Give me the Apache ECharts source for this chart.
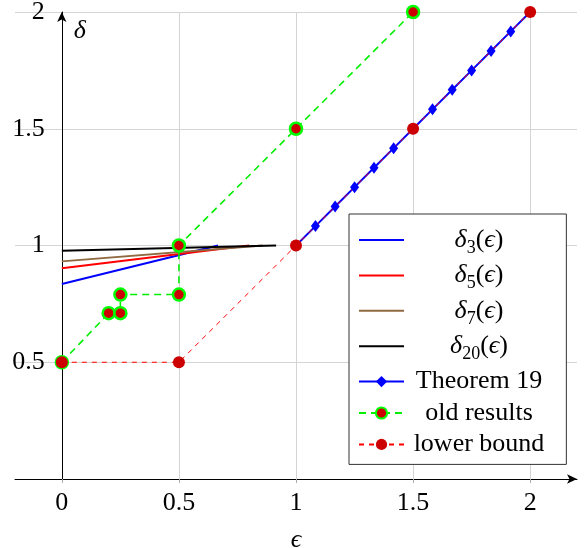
<!DOCTYPE html>
<html>
<head>
<meta charset="utf-8">
<script src="https://cdn.jsdelivr.net/npm/echarts@6/dist/echarts.min.js"></script>
<style>html,body{margin:0;padding:0;background:#fff}#c{width:588px;height:548px}</style>
</head>
<body>
<div id="c"></div>
<script>
// ---- data ----
const xTicks = [0, 0.5, 1, 1.5, 2];
const delta3X = [0, 0.667];
const delta3Y = [0.835, 1];
const delta5X = [0, 0.8];
const delta5Y = [0.903, 1];
const delta7X = [0, 0.857];
const delta7Y = [0.932, 1];
const delta20X = [0, 0.915];
const delta20Y = [0.977, 1];
const thm19X = [1, 1.083, 1.167, 1.25, 1.333, 1.417, 1.5, 1.583, 1.667, 1.75, 1.833, 1.917, 2];
const thm19Y = [1, 1.083, 1.167, 1.25, 1.333, 1.417, 1.5, 1.583, 1.667, 1.75, 1.833, 1.917, 2];
const oldX = [0, 0.2, 0.25, 0.25, 0.5, 0.5, 1, 1.5];
const oldY = [0.5, 0.71, 0.71, 0.79, 0.79, 1, 1.5, 2];
const lowX = [0, 0.5, 1, 1.5, 2];
const lowY = [0.5, 0.5, 1, 1.5, 2];
const seriesNames = ['δ3(ϵ)', 'δ5(ϵ)', 'δ7(ϵ)', 'δ20(ϵ)', 'Theorem 19', 'old results', 'lower bound'];

const zip = (xs, ys) => xs.map((x, i) => [x, ys[i]]);
const FONT = '"Liberation Serif", "DejaVu Serif", serif';
const FS = 26;
const LINE_ICON = 'path://M0,0L45,0L45,2L0,2Z';

const richBase = { fontFamily: FONT, fontSize: FS, color: '#000', align: 'center', lineHeight: 26 };
const rich = {
  n: Object.assign({}, richBase),
  i: Object.assign({}, richBase, { fontStyle: 'italic' }),
  s: Object.assign({}, richBase, { fontSize: 18, padding: [8, 0, -8, 0] })
};
function legendFmt(name) {
  const m = name.match(/^δ(\d+)\(ϵ\)$/);
  if (m) return '{i|δ}{s|' + m[1] + '}{n|(}{i|ϵ}{n|)}';
  return '{n|' + name + '}';
}

function lineSeries(name, data, color, extra) {
  return Object.assign({
    name: name, type: 'line', data: data, symbol: 'none',
    lineStyle: { color: color, width: 2 }, itemStyle: { color: color },
    animation: false
  }, extra || {});
}

const chart = echarts.init(document.getElementById('c'), null, { renderer: 'canvas' });
chart.setOption({
  animation: false,
  backgroundColor: '#fff',
  grid: { left: 15, right: 11, top: 12, bottom: 69, containLabel: false, outerBoundsMode: 'none' },
  xAxis: {
    type: 'value', min: -0.2, max: 2.2,
    name: 'ϵ', nameLocation: 'middle', nameGap: 48,
    nameTextStyle: { fontFamily: FONT, fontSize: FS, fontStyle: 'italic', color: '#000' },
    axisLine: { show: true, onZero: false, symbol: ['none', 'arrow'], symbolSize: [7, 10],
      lineStyle: { color: '#000', width: 1 } },
    axisTick: { show: true, customValues: xTicks, length: 4, lineStyle: { color: '#aaa' } },
    axisLabel: { customValues: xTicks, margin: 11, fontFamily: FONT, fontSize: FS, color: '#000',
      formatter: v => String(v) },
    splitLine: { show: true, lineStyle: { color: '#d4d4d4', width: 1 } }
  },
  yAxis: {
    type: 'value', min: 0, max: 2, interval: 0.5,
    offset: -46.8,
    name: 'δ', nameLocation: 'end', nameGap: -19,
    nameTextStyle: { fontFamily: FONT, fontSize: FS, fontStyle: 'italic', color: '#000',
      align: 'left', verticalAlign: 'middle', padding: [0, 0, 0, 12] },
    axisLine: { show: true, onZero: false, symbol: ['none', 'arrow'], symbolSize: [7, 10],
      lineStyle: { color: '#000', width: 1 } },
    axisTick: { show: false },
    axisLabel: { showMinLabel: false, margin: 17, fontFamily: FONT, fontSize: FS, color: '#000' },
    splitLine: { show: true, lineStyle: { color: '#d4d4d4', width: 1 } }
  },
  legend: {
    orient: 'vertical', left: 349, top: 214,
    padding: [13, 22, 7, 9],
    backgroundColor: '#fff', borderColor: '#333', borderWidth: 1,
    itemWidth: 45, itemHeight: 14, itemGap: 5.4,
    selectedMode: false,
    formatter: legendFmt,
    textStyle: { width: 140, fontFamily: FONT, fontSize: FS, color: '#000', rich: rich },
    data: [
      { name: seriesNames[0], icon: LINE_ICON },
      { name: seriesNames[1], icon: LINE_ICON },
      { name: seriesNames[2], icon: LINE_ICON },
      { name: seriesNames[3], icon: LINE_ICON },
      { name: seriesNames[4] },
      { name: seriesNames[5] },
      { name: seriesNames[6] }
    ]
  },
  series: [
    lineSeries(seriesNames[0], zip(delta3X, delta3Y), '#0000ff'),
    lineSeries(seriesNames[1], zip(delta5X, delta5Y), '#ff0000'),
    lineSeries(seriesNames[2], zip(delta7X, delta7Y), '#8f6a40'),
    lineSeries(seriesNames[3], zip(delta20X, delta20Y), '#000000'),
    lineSeries(seriesNames[4], zip(thm19X, thm19Y), '#0000ff', {
      symbol: 'diamond', symbolSize: [9, 12], showSymbol: true,
      itemStyle: { color: '#0000ff' }
    }),
    lineSeries(seriesNames[5], zip(oldX, oldY), '#00ee00', {
      symbol: 'circle', symbolSize: 12, showSymbol: true,
      lineStyle: { color: '#00ee00', width: 1.6, type: [7, 5] },
      itemStyle: { color: '#cc0000', borderColor: '#00ff00', borderWidth: 2.5 }
    }),
    lineSeries(seriesNames[6], zip(lowX, lowY), '#ff0000', {
      symbol: 'circle', symbolSize: 12, showSymbol: true,
      lineStyle: { color: '#ff0000', width: 1, type: [5, 5] },
      itemStyle: { color: '#cc0000' }
    })
  ]
});
</script>
</body>
</html>
